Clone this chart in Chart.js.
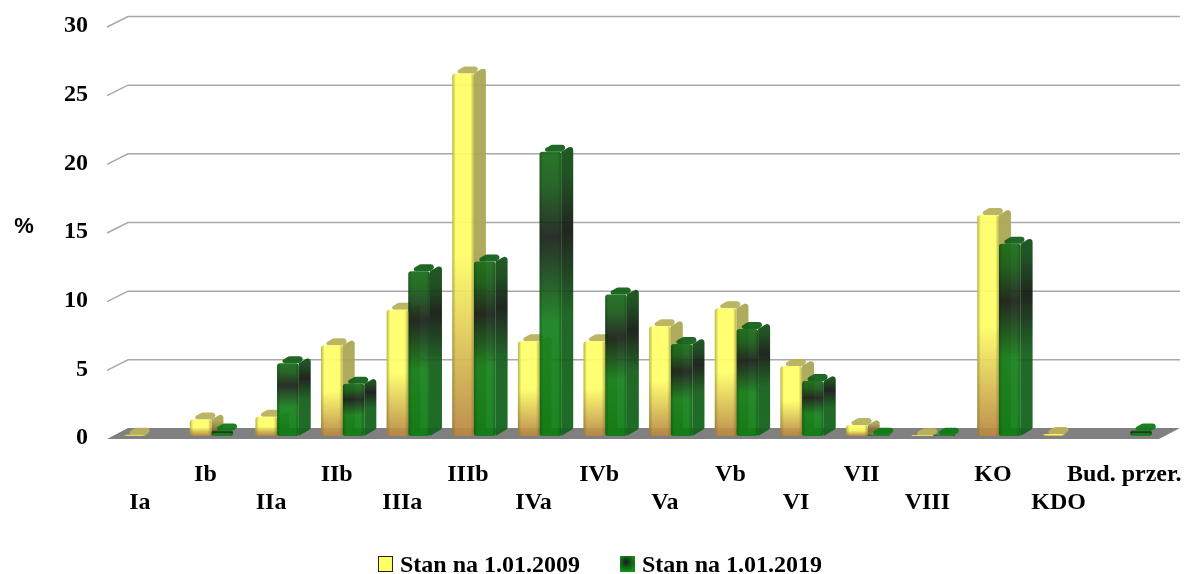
<!DOCTYPE html>
<html>
<head>
<meta charset="utf-8">
<title>Stan na 1.01.2009 / 1.01.2019</title>
<script src="https://cdn.jsdelivr.net/npm/chart.js@4"></script>
<style>
    html, body { margin: 0; padding: 0; background: #fff; }
    canvas { display: block; filter: blur(0.4px); }
</style>
</head>
<body>
<canvas id="chart" width="1185" height="574"></canvas>
<script>
const categories = ['Ia', 'Ib', 'IIa', 'IIb', 'IIIa', 'IIIb', 'IVa', 'IVb', 'Va', 'Vb', 'VI', 'VII', 'VIII', 'KO', 'KDO', 'Bud. przer.'];
const stan2009 = [0.1, 1.2, 1.4, 6.6, 9.2, 26.4, 6.9, 6.9, 8.0, 9.3, 5.1, 0.8, 0.05, 16.1, 0.15, null];
const stan2019 = [null, 0.4, 5.3, 3.8, 12.0, 12.7, 20.7, 10.3, 6.7, 7.8, 4.0, 0.1, 0.1, 14.0, null, 0.4];
const yTicks = [0, 5, 10, 15, 20, 25, 30];

const serif = '"Liberation Serif", "Times New Roman", serif';
const depthX = 12, depthY = 7;

const yellowStops = [[0, '255,255,102'], [0.5, '255,255,102'], [1, '184,134,66']];
const yellowSide = [[0, '172,166,84'], [0.5, '172,166,84'], [1, '140,110,60']];
const greenStops = [[0, '24,108,24'], [0.12, '24,90,24'], [0.3, '26,32,26'], [0.6, '22,128,28'], [1, '12,124,18']];
const greenSide = [[0, '20,84,24'], [0.12, '20,70,24'], [0.3, '20,26,20'], [0.6, '22,96,28'], [1, '18,100,28']];

function verticalFill(ctx, top, bottom, stops, alpha) {
    const g = ctx.createLinearGradient(0, top, 0, bottom);
    stops.forEach(([at, rgb]) => g.addColorStop(at, `rgba(${rgb},${alpha})`));
    return g;
}

function barFill(stops) {
    return (context) => {
        const { chart, raw } = context;
        if (!chart.chartArea || raw == null) return 'transparent';
        const y = chart.scales.y;
        return verticalFill(chart.ctx, y.getPixelForValue(raw), y.getPixelForValue(0), stops, 0.93);
    };
}

// closed path, third item of a point is its corner radius
function roundedPath(ctx, pts) {
    ctx.beginPath();
    const n = pts.length;
    ctx.moveTo((pts[n - 1][0] + pts[0][0]) / 2, (pts[n - 1][1] + pts[0][1]) / 2);
    pts.forEach((p, i) => {
        const next = pts[(i + 1) % n];
        ctx.arcTo(p[0], p[1], next[0], next[1], p[2] || 0);
    });
    ctx.closePath();
}

const wallPlugin = {
    id: 'wall',
    beforeDatasetsDraw(chart) {
        const { ctx } = chart;
        const y = chart.scales.y;
        const left = 107, right = 1159;
        const base = y.getPixelForValue(0) + 3;
        ctx.save();
        // floor
        ctx.fillStyle = '#808080';
        ctx.beginPath();
        ctx.moveTo(left, base);
        ctx.lineTo(left + 21, base - 11);
        ctx.lineTo(right + 21, base - 11);
        ctx.lineTo(right, base);
        ctx.closePath();
        ctx.fill();
        // grid lines on the back wall and the slanted part on the left
        ctx.strokeStyle = '#a8a8a8';
        ctx.lineWidth = 1.5;
        yTicks.forEach(v => {
            if (v === 0) return;
            const py = y.getPixelForValue(v) + 3;
            ctx.beginPath();
            ctx.moveTo(left, py);
            ctx.lineTo(left + 21, py - 10.5);
            ctx.lineTo(right + 21, py - 10.5);
            ctx.stroke();
        });
        ctx.restore();

        // side and top faces, yellow first so green sits over it
        [[0, yellowSide], [1, greenSide]].forEach(([index, stops]) => {
            chart.getDatasetMeta(index).data.forEach((bar, i) => {
                const value = chart.data.datasets[index].data[i];
                if (value == null) return;
                const x1 = bar.x + bar.width / 2;
                const x0 = bar.x - bar.width / 2;
                const top = bar.y, bottom = bar.base;
                ctx.save();
                if (bottom - top > 6) {
                    ctx.fillStyle = verticalFill(ctx, top - depthY, bottom - depthY, stops, 0.95);
                    roundedPath(ctx, [[x1, top], [x1 + depthX, top - depthY, 3], [x1 + depthX, bottom - depthY, 3], [x1, bottom]]);
                    ctx.fill();
                }
                if (index === 0) {
                    ctx.fillStyle = 'rgba(184,178,92,0.95)';
                } else {
                    // the flat bars show a brighter lid
                    ctx.fillStyle = value < 1 ? 'rgba(14,122,20,0.95)' : 'rgba(20,96,26,0.95)';
                }
                roundedPath(ctx, [[x0, top, 2], [x0 + depthX, top - depthY, 3], [x1 + depthX, top - depthY, 3], [x1, top]]);
                ctx.fill();
                ctx.restore();
            });
        });
    },
    afterDatasetsDraw(chart) {
        const { ctx } = chart;
        // darker left and right edges of the front faces
        [[0, '110,104,40', 0.5], [1, '0,40,0', 0.3]].forEach(([index, rgb, alpha]) => {
            chart.getDatasetMeta(index).data.forEach((bar, i) => {
                if (chart.data.datasets[index].data[i] == null) return;
                const x0 = bar.x - bar.width / 2, x1 = bar.x + bar.width / 2;
                if (bar.base - bar.y < 1) return;
                const g = ctx.createLinearGradient(x0, 0, x1, 0);
                g.addColorStop(0, `rgba(${rgb},${alpha})`);
                g.addColorStop(0.16, `rgba(${rgb},0)`);
                g.addColorStop(0.84, `rgba(${rgb},0)`);
                g.addColorStop(1, `rgba(${rgb},${alpha})`);
                ctx.fillStyle = g;
                ctx.beginPath();
                ctx.roundRect(x0, bar.y, bar.width, bar.base - bar.y, 3);
                ctx.fill();
            });
        });
    },
    afterDraw(chart) {
        const { ctx } = chart;
        ctx.save();
        // y axis unit
        ctx.fillStyle = '#000';
        ctx.font = 'bold 22px "Liberation Sans", Arial, sans-serif';
        ctx.textAlign = 'center';
        ctx.textBaseline = 'middle';
        ctx.fillText('%', 24, 227);
        // legend boxes
        chart.legend.legendHitBoxes.forEach((box, i) => {
            const x = box.left, y = box.top + 2;
            if (i === 0) {
                ctx.fillStyle = '#ffff66';
                ctx.fillRect(x, y, 15, 16);
                ctx.strokeStyle = '#222';
                ctx.lineWidth = 1;
                ctx.strokeRect(x + 0.5, y + 0.5, 14, 15);
            } else {
                const g = ctx.createRadialGradient(x + 6, y + 6, 1, x + 7, y + 7, 9);
                g.addColorStop(0, '#12261a');
                g.addColorStop(0.5, '#156015');
                g.addColorStop(1, '#129018');
                ctx.fillStyle = g;
                ctx.fillRect(x, y, 15, 16);
            }
        });
        ctx.restore();
    }
};

const chart = new Chart(document.getElementById('chart'), {
    type: 'bar',
    data: {
        labels: categories,
        datasets: [
            { label: 'Stan na 1.01.2009', data: stan2009, backgroundColor: barFill(yellowStops), borderRadius: 3, borderSkipped: false, categoryPercentage: 0.66, barPercentage: 1 },
            { label: 'Stan na 1.01.2019', data: stan2019, backgroundColor: barFill(greenStops), borderRadius: 3, borderSkipped: false, categoryPercentage: 0.66, barPercentage: 1 }
        ]
    },
    options: {
        responsive: false,
        animation: false,
        layout: { padding: { top: 24, right: 22, left: 37, bottom: -14 } },
        plugins: {
            tooltip: { enabled: false },
            legend: {
                position: 'bottom',
                labels: {
                    color: '#000',
                    boxWidth: 10,
                    boxHeight: 15,
                    padding: 40,
                    font: { family: serif, weight: 'bold', size: 24 },
                    generateLabels: (c) => c.data.datasets.map((d, i) => ({
                        text: d.label,
                        fillStyle: 'rgba(0,0,0,0)',
                        strokeStyle: 'rgba(0,0,0,0)',
                        lineWidth: 0,
                        datasetIndex: i
                    }))
                }
            }
        },
        scales: {
            x: {
                grid: { display: false },
                border: { display: false },
                afterFit: (scale) => {
                    scale.height = 78;
                    scale.paddingLeft = 0;
                    scale.paddingRight = 0;
                },
                ticks: {
                    color: '#000',
                    autoSkip: false,
                    maxRotation: 0,
                    minRotation: 0,
                    labelOffset: -6,
                    padding: 17,
                    font: { family: serif, weight: 'bold', size: 24, lineHeight: 1.167 },
                    callback: function (value, i) {
                        const label = this.getLabelForValue(value);
                        return i % 2 === 0 ? ['', label] : [label, ''];
                    }
                }
            },
            y: {
                min: 0,
                max: 30,
                afterFit: (scale) => {
                    scale.width = 76;
                    scale.paddingTop = 0;
                    scale.paddingBottom = 0;
                },
                afterBuildTicks: (scale) => { scale.ticks = yTicks.map(v => ({ value: v })); },
                grid: { display: false },
                border: { display: false },
                ticks: {
                    color: '#000',
                    padding: 17,
                    labelOffset: 2,
                    font: { family: serif, weight: 'bold', size: 24 }
                }
            }
        }
    },
    plugins: [wallPlugin]
});
</script>
</body>
</html>
